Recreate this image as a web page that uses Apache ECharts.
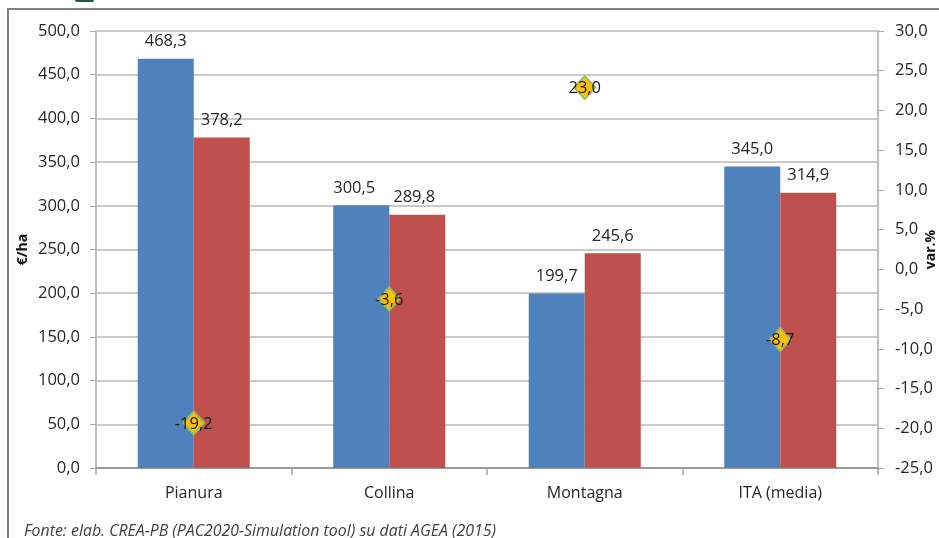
<!DOCTYPE html>
<html><head><meta charset="utf-8">
<style>html,body{margin:0;padding:0;background:#fff}#c{width:939px;height:538px}</style>
<script src="https://cdn.jsdelivr.net/npm/echarts@6/dist/echarts.min.js"></script>
</head><body><div id="c"></div>
<script>
const categories = ['Pianura','Collina','Montagna','ITA (media)'];
const seriesA = [468.3,300.5,199.7,345.0];
const seriesB = [378.2,289.8,245.6,314.9];
const variation = [-19.2,-3.6,23.0,-8.7];
const FONT = 'Open Sans';
const TXT = '#262626';
const fmt = v => v.toFixed(1).replace('.',',');
const chart = echarts.init(document.getElementById('c'),null,{renderer:'canvas'});
const barLabel = {show:true,position:'top',distance:9,color:TXT,fontFamily:FONT,fontSize:16.5,formatter:p=>fmt(p.value)};
const nudged = (vals, idx, dx) => vals.map((v,i)=> i===idx ? {value:v,label:{offset:[dx,0]}} : v);
chart.setOption({
  animation:false,
  backgroundColor:'#fff',
  title:{text:'Fonte: elab. CREA-PB (PAC2020-Simulation tool) su dati AGEA (2015)',left:24,top:523,padding:0,
    textStyle:{fontFamily:FONT,fontSize:15.9,fontStyle:'italic',fontWeight:'normal',color:'#404040'}},
  graphic:[
    {type:'polyline',silent:true,shape:{points:[[8,538],[8,9],[939,9]]},style:{stroke:'#7f7f7f',lineWidth:2,fill:null}},
    {type:'rect',silent:true,shape:{x:75,y:-4,width:19,height:6,r:2},style:{fill:'#1f5c3a'}}
  ],
  grid:{left:96,right:61,top:31,bottom:70,outerBoundsMode:'none'},
  xAxis:{type:'category',data:categories,
    axisLine:{lineStyle:{color:'#8c8c8c',width:1.5}},
    axisTick:{show:true,alignWithLabel:false,length:7,lineStyle:{color:'#a6a6a6',width:1.5}},
    axisLabel:{color:TXT,fontFamily:FONT,fontSize:16,margin:17},splitLine:{show:false}},
  yAxis:[
    {type:'value',min:0,max:500,interval:50,name:'€/ha',nameLocation:'middle',nameRotate:90,nameGap:66,nameMoveOverlap:false,
     nameTextStyle:{fontFamily:FONT,fontSize:14,fontWeight:'bold',color:'#111'},
     axisLine:{show:true,lineStyle:{color:'#bfbfbf',width:2}},
     axisTick:{show:true,length:6,lineStyle:{color:'#a6a6a6'}},
     axisLabel:{color:TXT,fontFamily:FONT,fontSize:16.5,margin:16,formatter:fmt},
     splitLine:{show:true,lineStyle:{color:'#b8b8b8',width:1.5}}},
    {type:'value',min:-25,max:30,interval:5,name:'var.%',nameLocation:'middle',nameRotate:90,nameGap:46,nameMoveOverlap:false,
     nameTextStyle:{fontFamily:FONT,fontSize:14,fontWeight:'bold',color:'#111'},
     axisLine:{show:true,lineStyle:{color:'#bfbfbf',width:2}},
     axisTick:{show:true,length:6,lineStyle:{color:'#a6a6a6'}},
     axisLabel:{color:TXT,fontFamily:FONT,fontSize:16.5,margin:17,formatter:fmt},
     splitLine:{show:false}}
  ],
  series:[
    {type:'bar',name:'A',data:nudged(seriesA,1,-7),barWidth:56,barGap:0,itemStyle:{color:'#4f81bd'},label:barLabel},
    {type:'bar',name:'B',data:nudged(seriesB,1,-3),barWidth:56,barGap:0,itemStyle:{color:'#c0504d'},label:barLabel},
    {type:'scatter',name:'var.%',data:variation,yAxisIndex:1,symbol:'diamond',symbolSize:[21,23],symbolOffset:[0,1],
     itemStyle:{color:'#ffc000',borderColor:'#9bbb59',borderWidth:2,opacity:1},
     label:{show:true,position:'inside',offset:[0,1],color:'#1a1a1a',fontFamily:FONT,fontSize:16.5,formatter:p=>fmt(p.value)},z:5}
  ]
});
</script></body></html>
